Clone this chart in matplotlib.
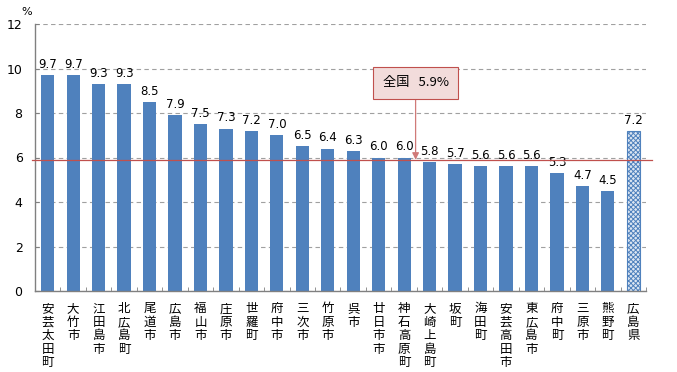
import matplotlib
matplotlib.use("Agg")
import matplotlib.pyplot as plt
import numpy as np

plt.rcParams['font.family'] = ['Noto Sans CJK JP', 'DejaVu Sans']

# data
names = ['安芸太田町', '大竹市', '江田島市', '北広島町', '尾道市', '広島市', '福山市',
         '庄原市', '世羅町', '府中市', '三次市', '竹原市', '呉市', '廿日市市',
         '神石高原町', '大崎上島町', '坂町', '海田町', '安芸高田市', '東広島市',
         '府中町', '三原市', '熊野町', '広島県']
values = [9.7, 9.7, 9.3, 9.3, 8.5, 7.9, 7.5, 7.3, 7.2, 7.0, 6.5, 6.4, 6.3, 6.0,
          6.0, 5.8, 5.7, 5.6, 5.6, 5.6, 5.3, 4.7, 4.5, 7.2]
national = 5.9
yticks = [0, 2, 4, 6, 8, 10, 12]

BLUE = '#4f81bd'
RED = '#c0504d'

fig = plt.figure(figsize=(6.77, 3.72), dpi=100)
ax = fig.add_axes([35 / 677, (372 - 291) / 372, 611 / 677, 267 / 372])

x = np.arange(len(names))
ax.bar(x[:-1], values[:-1], width=0.52, color=BLUE, zorder=2)
# prefecture bar with checker pattern
plt.rcParams['hatch.linewidth'] = 0.7
ax.bar(x[-1], values[-1], width=0.52, facecolor='#dce6f2', edgecolor=BLUE,
       hatch='xxxxxxx', linewidth=0.8, zorder=2)

for xi, v in zip(x, values):
    ax.annotate(f'{v:.1f}', xy=(xi, v), xytext=(0, 3), textcoords='offset points',
                ha='center', va='bottom', fontsize=8.5, family='DejaVu Sans')

# national average line
ax.axhline(national, color=RED, linewidth=0.9, xmin=-0.005, xmax=1.01,
           clip_on=False, zorder=3)

ax.annotate('全国   5.9%', xy=(14.45, national), xytext=(14.45, 9.35),
            ha='center', va='center', fontsize=9.5,
            bbox=dict(boxstyle='square,pad=0.7', fc='#f2dcdb', ec=RED, lw=0.8),
            arrowprops=dict(arrowstyle='-|>', color='#d07a78', lw=0.9,
                            mutation_scale=10, shrinkA=0, shrinkB=0), zorder=5)

ax.set_xlim(-0.5, len(names) - 0.5)
ax.set_ylim(0, 12)
ax.set_yticks(yticks)
ax.set_yticklabels([str(t) for t in yticks], family='DejaVu Sans', fontsize=9)
ax.yaxis.grid(True, linestyle=(0, (4, 3)), color='#a0a0a0', linewidth=0.8, zorder=0)
ax.set_axisbelow(True)

ax.set_xticks(x)
ax.set_xticklabels(['\n'.join(n) for n in names], fontsize=9, va='top',
                   linespacing=1.05)
ax.set_xticks(np.arange(-0.5, len(names), 1), minor=True)
ax.tick_params(axis='x', which='major', length=0, pad=8)
ax.tick_params(axis='x', which='minor', length=3, direction='in', color='#808080')
ax.tick_params(axis='y', length=3, direction='in', color='#808080', pad=9)

for s in ['top', 'right']:
    ax.spines[s].set_visible(False)
for s in ['left', 'bottom']:
    ax.spines[s].set_color('#808080')
    ax.spines[s].set_linewidth(1.0)

fig.text(27 / 677, 1 - 12 / 372, '%', fontsize=8, ha='center', va='center',
         family='DejaVu Sans')

fig.savefig('out.png', dpi=100)
